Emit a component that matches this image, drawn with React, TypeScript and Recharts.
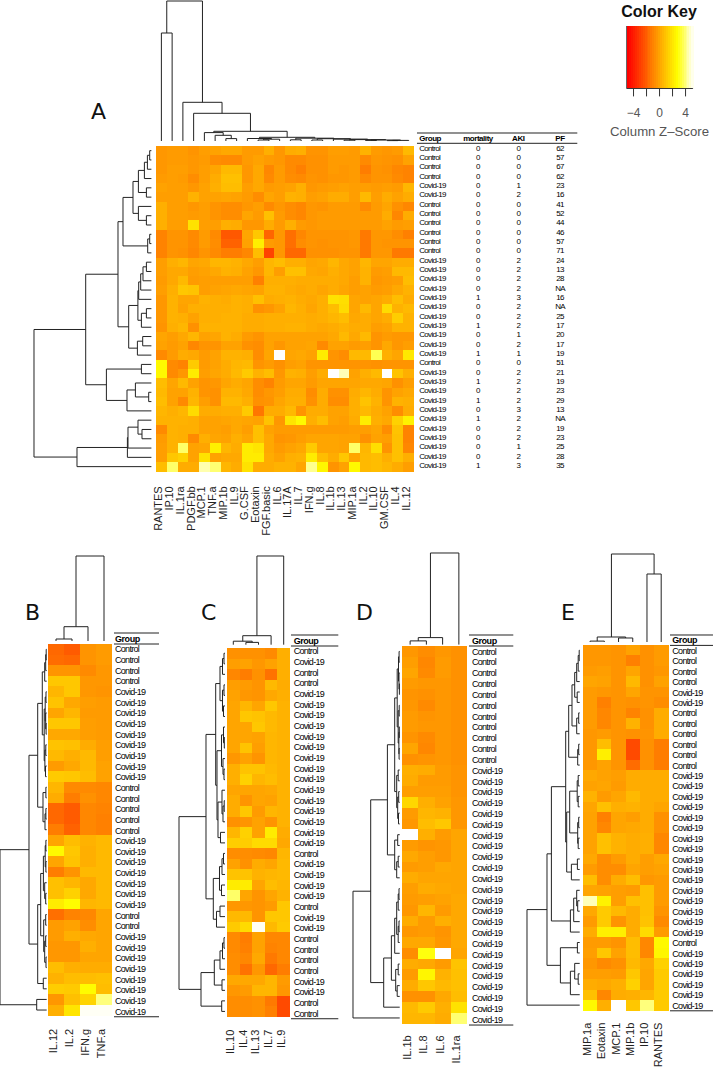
import React from "react";
import { ScatterChart, Scatter, XAxis, YAxis, ReferenceLine, ReferenceArea } from "recharts";

const C = "Control";
const V = "Covid-19";

// panel A
const colsA = ["RANTES", "IP.10", "IL.1ra", "PDGF.bb", "MCP.1", "TNF.a", "MIP.1b", "IL.9", "G.CSF", "Eotaxin", "FGF.basic", "IL.6", "IL.17A", "IL.7", "IFN.g", "IL.8", "IL.1b", "IL.13", "MIP.1a", "IL.2", "IL.10", "GM.CSF", "IL.4", "IL.12"];
const groupA = [C, C, C, C, V, V, C, C, C, C, C, C, V, V, V, V, V, V, V, V, V, V, V, C, V, V, V, V, V, V, V, V, V, V, V];
const mortalityA = [0, 0, 0, 0, 0, 0, 0, 0, 0, 0, 0, 0, 0, 0, 0, 0, 1, 0, 0, 1, 0, 0, 1, 0, 0, 1, 0, 1, 0, 1, 0, 0, 0, 0, 1];
const akiA = [0, 0, 0, 0, 1, 2, 0, 0, 0, 0, 0, 0, 2, 2, 2, 2, 3, 2, 2, 2, 1, 2, 1, 0, 2, 2, 2, 2, 3, 2, 2, 2, 1, 2, 3];
const pfA = [62, 57, 67, 62, 23, 16, 41, 52, 44, 46, 57, 71, 24, 13, 28, "NA", 16, "NA", 25, 17, 20, 17, 19, 51, 21, 19, 23, 29, 13, "NA", 19, 23, 25, 28, 35];
const heatA = [
  [-.5, -.4, -.4, -.6, -.3, -.2, 0, 0, -.4, -.4, .2, -.5, .1, .2, -.6, -.6, -.3, -.3, -.4, .3, -.4, -.5, -.4, .5],
  [-.5, -.4, -.4, -.5, -.4, -.8, -.9, -.9, -.4, -.2, -.4, -.5, -.9, -.9, -.7, -.7, -.4, -.4, -.4, -.9, -.5, -.6, -.7, -.2],
  [-.5, -.3, -.3, -.5, -.3, -.1, .5, .5, -.5, 0, -1, -.4, -.9, -1.2, -.7, -.7, -.4, -.5, -.4, -1.3, -.6, -.7, -1, -1.1],
  [-.4, -.3, -.4, -.8, -.3, .1, .7, .7, -.5, 0, -.9, -.4, -.8, -.9, -.6, -.7, -.5, -.5, -.4, -.9, -.6, -.6, -.9, -1.1],
  [-.2, -.3, -.3, -.5, -.2, .2, .6, .6, -.3, 0, -.4, -.3, -.2, .2, -.5, -.4, -.3, -.2, -.3, -.3, -.4, -.3, -.4, .4],
  [-.3, -.3, -.3, .3, -.2, -.2, -.1, -.2, -.4, -.8, -.1, -.3, .3, .2, -.3, -.2, .1, .1, -.3, .5, -.3, .1, -.2, .1],
  [.2, -.3, -.3, -.5, -.3, -.6, -.8, -.8, -.5, -.3, -.9, -.5, -.8, -1, -.5, -.6, -.4, -.4, -.4, -.9, -.4, -.1, -.7, -1],
  [.2, -.3, -.3, -.4, -.3, -.6, -.8, -.8, -.1, -.4, .7, -.4, -.8, -1, -.5, -.4, -.4, -.4, -.4, -.4, -.4, .1, -1, .1],
  [.2, -.3, -.3, 1.7, -.3, -.3, .2, .1, -.5, -.5, .1, -.4, .2, -.4, -.5, -.4, -.4, -.4, -.4, -.4, -.4, -.2, -.4, -.3],
  [-1.1, -.6, -.6, -.9, -.4, -.9, -2.4, -2.4, -.1, .9, -2, -.5, -1.7, -1, -.6, -.6, -.6, -.6, -.5, -1.4, -.5, -.5, -.8, -1.2],
  [-1.1, -.6, -.6, -.9, -.4, -.8, -2.1, -2.1, -.2, 2.1, -.4, -.5, -1.7, -.8, -.6, -.7, -.6, -.6, -.5, -1.4, -.5, -.6, -.6, -.6],
  [-1.1, -.6, -.7, -1, -.6, -.9, -1.3, -1.3, -1, .6, -3, -.5, -1.9, -1.9, -.7, -.7, -.7, -.6, -.6, -1.4, -.5, -.5, -1.4, -1.4],
  [-.3, .2, .4, -.1, 0, .4, .4, .3, 0, -.3, .4, .6, .2, .2, -.1, 0, .4, 0, -.2, .4, -.1, -.1, .1, .1],
  [-.3, 0, 0, -.3, -.2, 0, .3, .2, -.2, -.5, .4, -.3, .7, .7, 0, -.1, .2, 0, -.2, .3, -.4, -.3, .5, .5],
  [-.4, 0, .5, -.4, -.3, -.3, -.3, -.3, -.3, -1.2, .2, .2, .2, .1, .1, .1, .1, 0, -.3, .3, -.5, -.4, -.3, .6],
  [-.3, .2, .9, .8, -.3, -.2, -.1, 0, -.1, -.2, .3, .3, .1, 0, .1, -.1, .1, -.1, -.3, -.2, -.4, -.3, 0, .3],
  [-.5, .3, -.1, -.1, .3, .2, .1, .3, .2, .7, .1, .2, .3, .1, 0, .2, 1.7, 1.6, -.1, -.2, -.1, .1, .6, .1],
  [-.5, .3, -.2, .2, .2, .2, .2, .3, .2, -.7, -.5, -.2, .4, .2, -.1, .2, .6, 1.5, -.1, .5, -.1, 1.5, .3, .5],
  [-.5, .3, .2, -.2, .2, .2, .3, .3, .1, .1, .2, .2, .2, .2, .1, .2, .4, .6, 0, .1, -.1, .1, 1.1, .3],
  [-.6, .2, .4, -.7, .3, .3, .3, .3, .1, .1, .2, .2, .3, .3, .1, 0, .1, .3, .1, .1, -.3, -.2, .3, .3],
  [-.1, -.3, 0, .4, -.2, -.1, .3, .1, -.4, -.6, -.2, -.2, -.2, -.2, -.2, -.2, 0, .5, 0, .5, -.6, -.4, -.5, -.5],
  [-.2, -.4, -.2, -1, -.6, -.6, -.2, -.2, -.7, -.8, -.2, -.5, -.2, -.2, -.1, -.9, -.2, -.2, -.4, -.3, -.6, 0, -.5, -.3],
  [-.9, -.4, .1, 0, -.4, -.2, .3, .3, .2, -.8, -.1, 5.1, -.1, 0, -.2, 2, -.6, -.8, .5, .5, 3.4, .2, -.1, 1.9],
  [2.4, -.9, -1.1, 1, -.4, -.2, .1, .4, .5, -.6, -.4, -.7, -.3, -.2, -.6, -.6, -.6, -.6, -.6, -.6, -.7, -.6, -.6, -.6],
  [2.4, -.9, -.5, 2, -.3, -.1, .1, .5, 1, .3, .6, -.5, .3, .2, -.3, .1, 5.1, 4.4, -.2, .2, .5, 5.1, .8, .2],
  [.6, -.1, .5, -.2, -.6, -.5, -.1, .1, -.1, -.8, -1.1, -.4, -.1, -.1, -.4, -.1, -.1, -.1, -.1, 0, 0, -.1, -.7, -.3],
  [.5, -.2, -.2, .3, -.6, -.7, .3, .3, 0, -.8, -.5, -.3, .1, .1, -.8, .1, -.7, -.7, .1, .4, .1, -.6, -.2, 0],
  [.6, -.2, -.9, .4, -.3, -.7, .5, .5, .2, -.7, -.6, -.1, .2, .2, -.7, .1, -.8, -.8, .2, .8, .3, -.6, .3, .2],
  [.4, .2, .4, 1.5, .1, .1, .2, .2, 1, -1.5, .1, .1, .5, -.6, .1, .1, -.2, -.2, .2, .5, .1, -.2, -.8, .1],
  [.3, .3, .3, .2, -.2, -.2, -.1, 0, -.1, -.2, .8, -.5, 1.8, 2.4, .2, .6, -.2, -.3, .1, 2, .2, 0, 1.2, 2.2],
  [-.9, .3, .2, .2, -.2, -.2, -.3, 0, -.3, .7, -.2, -.4, -.4, -.4, -.4, -.4, -.4, -.4, -.3, -.3, -.1, -.8, .8, -1.1],
  [-.4, .3, .2, -.9, .2, -.1, -.2, .2, -.1, .7, 0, -.6, -.5, -.3, -.1, -.1, -.1, -.2, -.2, -.7, -.2, -.3, .7, -1.1],
  [-.3, .3, 3.6, -.2, -.1, 2.1, .4, .1, 2, 1.8, 0, -.4, -.2, 0, 1, -.1, -.1, -.2, 3.6, .4, 1.6, -.6, .7, -1],
  [-.3, .9, 1.2, -.2, 1.7, -.2, 0, 0, 2, 2, .1, -.2, .2, .3, 2, .6, .1, .9, -.1, .5, .6, .2, .7, .2],
  [.6, 3.6, .1, .1, 4.3, 3.7, .4, .1, 1.7, .1, .1, .3, .3, -.1, 4, 2.3, -.6, -.2, 2.4, .5, .6, .4, .1, -.3],
];
const rowTreeA = [117.4,
  [65.7,
    [33.4,
      [28.4,
        [18.4,
          [13, [7, [4, [1.7, 1, 2], 3], 4], [5, 5, 6]],
          [13, 7, [5, 8, 9]]],
        [3.7, [1.7, 10, 11], 12]],
      [22.7,
        [13.5, [12.7, [10.7, [8.4, [5, 13, 14], 15], 16], 17], [10, [5, 18, 19], 20]],
        [14, [8.7, 21, 22], 23]]],
    [45, [10, 24, 25], [24.4, [16, 26, [2.7, 27, 28]], 29]]],
  [74.4, [24, [23.4, [13.4, 30, [9.4, 31, 32]], 33], 34], 35]];
const colTreeA = [140,
  [108, 1, 2],
  [38.7, 3,
    [27.7, 4,
      [9.7,
        [8.4, 5, [5.7, 6, [2.4, 7, 8]]],
        [3.7,
          [2.5, 9, [1.8, [1, 10, 11], 12]],
          [2.8, [1.2, 13, 14], [2.3, [1, 15, 16], [1.9, 17, [1.4, [.8, 18, 19], [1, [.6, 20, 21], [.6, [.4, 22, 23], 24]]]]]]]]]]];

// panel B
const colsB = ["IL.12", "IL.2", "IFN.g", "TNF.a"];
const groupB = [C, C, C, C, V, V, V, V, V, V, V, V, V, C, C, C, C, C, V, V, V, V, V, V, V, C, C, V, V, V, V, V, V, V, V];
const heatB = [
  [-1.9, -2.3, -.6, -.4], [-1.8, -1.9, -.6, -.4], [-.6, -.6, -.9, -.5], [.9, .9, -.5, -.5], [.4, .9, -.5, -.6],
  [.8, 0, -.3, -.4], [-.1, .4, -.4, -.4], [.9, .9, -.3, -.4], [0, 0, -.3, -.4], [.8, .7, .1, -.3],
  [.5, .2, .5, -.3], [-.4, 0, .5, -.2], [1, .9, .6, -.2], [.4, -.9, -.9, -1], [.1, -1.3, -.7, -1],
  [-1.9, -2.3, -1, -1.1], [-1.9, -2.3, -1, -1.2], [-1.3, -2.1, -1, -1.2], [-.1, .6, .3, .5], [2.4, .9, .2, .5],
  [-.1, .8, .2, .5], [-1.3, -.6, .5, .5], [.7, .4, 0, .5], [.7, 1.2, 0, .5], [2, 2.5, .4, .5],
  [-1.7, -1.1, -1, -.1], [-.4, -.2, -.8, -.1], [-.4, .2, 0, -.1], [-.5, -.5, .2, -.1], [-.5, -.5, -.1, -.1],
  [.6, .2, .1, .1], [.3, .6, .6, .7], [1.1, 1, 2.5, .6], [-.5, .7, 1.3, 3.8], [.2, 1.8, 5, 5],
];
const rowTreeB = [46.7,
  [17.7,
    [9,
      [4.4,
        [2, [1, [.5, 1, 2], 3], 4],
        [2.5, [1.5, [.7, 5, 6], [1, 7, [.6, 8, 9]]], [1.8, [.9, 10, 11], [1.2, 12, 13]]]],
      [3.7, [.8, 14, 15], [1.7, [.8, 16, 17], 18]]],
    [9,
      [6,
        [3.3, [1.5, [.8, 19, 20], [.8, 21, 22]], [2, 23, [1, 24, 25]]],
        [3, [1, 26, 27], [2, [1, 28, 29], [.7, 30, 31]]]],
      [3.4, 32, 33]]],
  [10, 34, 35]];
const colTreeB = [85, [14.3, [2, 1, 2], 3], 4];

// panel C
const colsC = ["IL.10", "IL.4", "IL.13", "IL.7", "IL.9"];
const groupC = [C, V, C, C, V, V, V, V, V, V, V, V, V, V, V, V, V, V, V, C, V, V, V, V, C, V, V, C, C, C, C, V, V, C, C];
const heatC = [
  [-.7, -.7, -.7, -.9, .2], [-.3, -.2, -.5, -.2, .2], [-1, -1.3, -.7, -1.6, .2], [-.3, -.4, -.6, .5, .1], [-.2, -.5, -.6, 0, .2],
  [-.1, .4, -.1, .9, .3], [-.1, .9, .8, .5, .3], [-.1, -.1, .9, .5, .3], [-.1, -.1, -.2, .4, .3], [-.1, .8, -.3, .4, .3],
  [-.5, -.2, -.6, .4, .3], [.2, .8, .8, .5, .3], [.2, 1.2, .4, .6, .3], [-.1, -.1, -.1, 0, .3], [.1, -.6, -.1, -.2, .3],
  [.1, .9, -.4, .4, .3], [-.7, -.6, -.2, -.6, .3], [.4, 1.2, -.2, 2, .1], [1.1, 1.1, 1.5, 1.5, 0], [-.8, -.8, -.9, -1, .4],
  [-.2, -.7, .1, -.1, .5], [.8, .8, .3, .4, .5], [2, 2, -.1, .6, .4], [3.6, -.1, -.6, -.1, .3], [-.5, -.5, -.6, -.4, .9],
  [.5, .5, -.6, .9, .9], [1, 1.5, 5, .5, 1], [-.9, -1.3, -.2, -1, -1], [-.9, -1.2, -.2, -1.1, -1], [-.8, -1, 0, -1.4, -1],
  [-.8, -1.6, -.5, -1.9, -1.3], [0, 0, 0, .4, -.4], [-.5, -.4, .4, .4, -.5], [-.8, -.8, -.7, -1.4, -2.8], [-.8, -.8, -.7, -1.2, -2.8],
];
const rowTreeC = [46,
  [19,
    [9.3,
      [5, [2.5, [1, 1, 2], 3], [2.5, [1, 4, 5], [1.5, 6, 7]]],
      [8,
        [3.5, [1.5, 8, [.7, 9, 10]], [2, 11, [1, 12, 13]]],
        [7, [3, 14, [2, [.8, 15, 16], 17]], [4.5, 18, 19]]]],
    [11.7,
      [5.5, [3, [1.5, 20, 21], 22], [3.5, 23, 24]],
      [8.5, [5, 25, 26], 27]]],
  [24,
    [10.7, [5, [2.5, [1, 28, 29], 30], 31], [3, 32, 33]],
    [3.3, 34, 35]]];
const colTreeC = [88.7, [9, [3.5, 1, [2.3, 2, 3]], 4], 5];

// panel D
const colsD = ["IL.1b", "IL.8", "IL.6", "IL.1ra"];
const groupD = [C, C, C, C, C, C, C, C, C, C, C, V, V, V, V, V, V, V, V, V, V, V, V, V, V, V, V, V, V, V, V, V, V, V, V];
const heatD = [
  [-.5, -.8, -.5, -.7], [-.3, -1, -.4, -.7], [-.1, -.9, -.4, -.7], [-.4, -.5, -.5, -.7], [-.6, -.7, -.5, -.7],
  [-.5, -.9, -.5, -.7], [-.4, -.6, -.5, -.7], [-.4, -.5, -.5, -.7], [-.6, -.9, -.5, -.7], [-.1, -1, -.5, -.7],
  [-.7, -.6, -.5, -.7], [.2, .1, -.4, -.6], [.1, -.4, -.4, -.6], [-.3, -.3, -.3, -.6], [1.4, .2, -.2, -.5],
  [-.4, .4, .3, -.5], [-.5, .6, .9, -.5], [5.1, .2, -.4, -.1], [-.4, -.6, -.5, -.1], [0, -.3, -.5, -.1],
  [-.4, -.3, 0, -.1], [.1, -.1, -.1, -.1], [-.3, .1, 0, -.1], [-.4, -.3, -.2, 0], [-.5, .4, -.4, 0],
  [.1, -.4, .2, 0], [-.5, -.4, -.6, 0], [0, 0, -.5, 0], [-.8, 2.7, 5.1, -.1], [.1, 0, -.4, .8],
  [-.4, 2.3, .3, .7], [.1, .9, .5, .7], [-.7, -.7, 0, .6], [.5, 1, .2, 1.7], [.4, .4, .1, 3.7],
];
const rowTreeD = [46.7,
  [29,
    [12.3,
      [5,
        [2.5, [1.2, [.6, 1, 2], [.7, 3, [.3, 4, 5]]], [1.5, [.5, 6, 7], [.8, [.4, 8, 9], [.6, 10, 11]]]],
        [3, [1.5, 12, 13], [2, [1, 14, 15], [1.2, 16, 17]]]],
      [5, [2, 18, 19], [3, [1.5, 20, 21], 22]]],
    [16,
      [8.3,
        [5, [3, [1.5, [.7, 23, 24], 25], [1.5, [.7, 26, 27], 28]], 29],
        [4, [1.5, 30, 31], [2.5, 32, 33]]],
      34]],
  35];
const colTreeD = [91.6, [7, [3.7, 1, 2], 3], 4];

// panel E
const colsE = ["MIP.1a", "Eotaxin", "MCP.1", "MIP.1b", "IP.10", "RANTES"];
const groupE = [C, C, C, C, V, V, C, C, C, C, C, C, V, V, V, V, V, V, V, V, V, V, V, V, V, V, V, V, C, V, V, V, V, V, V];
const heatE = [
  [-.5, -.5, -.6, -.2, -.7, -.4], [-.5, -.5, -.6, -1.2, -.7, -.4], [-.4, -.3, -.6, -.1, -.7, -.5], [-.1, -.2, -.6, .5, -.7, -.2], [-.4, -.5, -.6, -.1, -.6, -.6],
  [-.4, -1.2, -.6, -.7, -.6, -.8], [-.4, -1, -.6, -1.1, -.7, .1], [-.4, -1, -.6, .3, -.7, .1], [-.5, -.4, -.6, -.7, -.6, .1], [-.5, .6, -.6, -2.8, -.7, -1.3],
  [-.5, 2.1, -.6, -2.8, -.7, -1.3], [-.5, -.2, -.6, -1.8, -.7, -1.3], [0, -.2, -.3, .1, .1, .1], [-.2, -.1, -.4, .1, .1, .1], [.3, -.4, -.1, .5, .1, .1],
  [-.1, .7, .2, .3, .1, -.1], [-.2, -1.2, -.1, -.3, .1, -.7], [-.2, -1, -.1, 0, .1, -.7], [-.2, .7, .3, .1, .2, -1], [-.2, .7, .3, .1, .2, -1],
  [0, -.8, -.4, .1, -.3, 0], [-.4, -.8, -.8, -.1, -.3, -.2], [.6, -.8, .1, .6, -.5, -.4], [-.1, -.2, -.3, -.4, .7, -.4], [4.4, 2.2, -.3, .7, .7, -.4],
  [0, 1, .5, .1, .7, -.6], [-.4, 1, -.6, .1, .8, -.9], [.1, 2.1, 2.1, .1, 1.5, -.4], [-.4, -.4, -.6, .6, -1, 2.4], [-.3, .9, -.2, .6, -1, 2.3],
  [-.5, -.9, -.7, .5, 0, 1.2], [-.3, -.3, -.4, .9, -.1, 1], [.1, 0, .2, 1.2, -.1, 1], [.7, -1, .1, .2, .4, 1], [2.4, .2, 5.1, .9, 3.8, 1],
];
const rowTreeE = [52.7,
  [32.7,
    [28.3,
      [14,
        [11, [7.7, [5, [3, [1.5, [.5, 1, 2], 3], 4], [2.5, 5, 6]], [3, [1, 7, 8], 9]], [2, [1, 10, 11], 12]],
        [13, [10, [2.5, [1.5, 13, 14], [1.5, 15, 16]], [2, [1, 17, 18], [1.5, 19, 20]]], [8.3, [2.3, 21, 22], 23]]],
      [9.3, [6, [3, 24, [2, 25, 26]], 27], 28]],
    [19.3, [2.3, 29, 30], [9.3, [5, 31, [1.5, 32, 33]], 34]]],
  35];
const colTreeE = [88, [5, [.9, 1, 2], [4, 3, 4]], [68, 5, 6]];

// color key
const keyLevels = [-5, -4.7, -4.4, -4.1, -3.8, -3.5, -3.2, -2.9, -2.6, -2.3, -2, -1.7, -1.4, -1.1, -.8, -.5, -.2, .1, .4, .7, 1, 1.3, 1.6, 1.9, 2.2, 2.5, 2.8, 3.1, 3.4, 3.7, 4, 4.3, 4.6, 4.9];
const keyTicks = [-4, -2, 0, 2, 4];

const LINE = "#222";
const SIDE = 8; // room either side of a heatmap for the rotated labels

const zColor = (z: number) => {
  const t = Math.min(1, Math.max(0, (z + 5) / 10.1));
  if (t < 0.75) return `rgb(255,${Math.round((255 * t) / 0.75)},0)`;
  return `rgb(255,255,${Math.round((255 * (t - 0.75)) / 0.25)})`;
};

const box = (left: number, top: number): React.CSSProperties => ({ position: "absolute", left, top });
const noPoint = () => null;

// walks a nested [height, left, right] tree and returns one elbow per node
const elbows = (tree: any, out: any[] = []) => {
  if (typeof tree === "number") return { pos: tree, h: 0, out };
  const a: any = elbows(tree[1], out);
  const b: any = elbows(tree[2], out);
  out.push([
    { pos: a.pos, h: a.h },
    { pos: a.pos, h: tree[0] },
    { pos: b.pos, h: tree[0] },
    { pos: b.pos, h: b.h },
  ]);
  return { pos: (a.pos + b.pos) / 2, h: tree[0], out };
};

const RowDendro = ({ tree, right, top, height, rows }: any) => {
  const { out } = elbows(tree);
  const w = tree[0];
  return (
    <div style={box(right - w - 1, top - 1)}>
      <ScatterChart width={w + 2} height={height + 2} margin={{ top: 1, right: 1, bottom: 1, left: 1 }}>
        <XAxis type="number" dataKey="h" domain={[0, w]} reversed hide />
        <YAxis type="number" dataKey="pos" domain={[0.5, rows + 0.5]} reversed hide />
        {out.map((pts: any, i: number) => (
          <Scatter key={i} data={pts} line={{ stroke: LINE, strokeWidth: 1 }} shape={noPoint} isAnimationActive={false} />
        ))}
      </ScatterChart>
    </div>
  );
};

const ColDendro = ({ tree, left, bottom, width, cols }: any) => {
  const { out } = elbows(tree);
  const h = tree[0];
  return (
    <div style={box(left - 1, bottom - h - 1)}>
      <ScatterChart width={width + 2} height={h + 2} margin={{ top: 1, right: 1, bottom: 1, left: 1 }}>
        <XAxis type="number" dataKey="pos" domain={[0.5, cols + 0.5]} hide />
        <YAxis type="number" dataKey="h" domain={[0, h]} hide />
        {out.map((pts: any, i: number) => (
          <Scatter key={i} data={pts} line={{ stroke: LINE, strokeWidth: 1 }} shape={noPoint} isAnimationActive={false} />
        ))}
      </ScatterChart>
    </div>
  );
};

const Heat = ({ left, top, width, height, matrix, labels, labelGap }: any) => {
  const nRows = matrix.length;
  const nCols = labels.length;
  const w = width / nCols;
  const h = height / nRows;
  const cells = matrix.flatMap((row: number[], r: number) =>
    row.map((z, c) => ({ x: c + 0.5, y: r + 0.5, z }))
  );
  const cell = (p: any) => (
    <rect x={p.cx - w / 2} y={p.cy - h / 2} width={w + 0.5} height={h + 0.5} fill={zColor(p.payload.z)} shapeRendering="crispEdges" />
  );
  const tick = ({ x, y, payload }: any) => {
    const tx = x + 1;
    const ty = y + labelGap;
    return (
      <text x={tx} y={ty} transform={`rotate(-90 ${tx} ${ty})`} textAnchor="end" fontSize={11} fill={LINE} fontFamily="Liberation Sans">
        {labels[payload.value - 0.5]}
      </text>
    );
  };
  return (
    <div style={box(left - SIDE, top)}>
      <ScatterChart width={width + 2 * SIDE} height={height + 74} margin={{ top: 0, right: SIDE, bottom: 0, left: SIDE }}>
        <XAxis
          type="number"
          dataKey="x"
          domain={[0, nCols]}
          ticks={labels.map((_: string, i: number) => i + 0.5)}
          interval={0}
          height={74}
          tickLine={false}
          axisLine={false}
          tickSize={0}
          tick={tick}
        />
        <YAxis type="number" dataKey="y" domain={[0, nRows]} reversed hide />
        <Scatter data={cells} shape={cell} isAnimationActive={false} />
      </ScatterChart>
    </div>
  );
};

const Table = ({ left, top, width, headH, rowH, nRows, columns, fontSize, bottomLine }: any) => {
  const headUnits = headH / rowH;
  const label = (p: any) => (
    <text
      x={p.cx}
      y={p.cy}
      dy="0.35em"
      textAnchor={p.payload.anchor}
      fontSize={fontSize}
      fontWeight={p.payload.bold ? 700 : 400}
      letterSpacing={p.payload.bold ? -0.45 : -0.7}
      fill="#000"
      fontFamily="Liberation Sans"
    >
      {p.payload.text}
    </text>
  );
  return (
    <div style={box(left - 1, top - 1)}>
      <ScatterChart width={width + 2} height={headH + rowH * nRows + 2} margin={{ top: 1, right: 1, bottom: 1, left: 1 }}>
        <XAxis type="number" dataKey="x" domain={[0, width]} hide />
        <YAxis type="number" dataKey="y" domain={[-headUnits, nRows]} reversed hide />
        {columns.map((col: any) => (
          <Scatter
            key={col.header}
            data={[
              { x: col.x, y: -headUnits / 2, text: col.header, anchor: col.anchor, bold: true },
              ...col.values.map((v: any, i: number) => ({ x: col.x, y: i + 0.5, text: String(v), anchor: col.anchor })),
            ]}
            shape={label}
            isAnimationActive={false}
          />
        ))}
        <ReferenceLine y={-headUnits} stroke={LINE} strokeWidth={1} />
        <ReferenceLine y={0} stroke={LINE} strokeWidth={1} />
        {bottomLine && <ReferenceLine y={nRows} stroke={LINE} strokeWidth={1} />}
      </ScatterChart>
    </div>
  );
};

const ColorKey = () => {
  const cell = (p: any) => (
    <rect x={p.cx - 1} y={p.cy - 31.2} width={2.4} height={62.4} fill={zColor(p.payload.z)} shapeRendering="crispEdges" />
  );
  return (
    <div style={box(610, 26)}>
      <ScatterChart width={99} height={104} margin={{ top: 0, right: 16.3, bottom: 0, left: 16.7 }}>
        <XAxis
          type="number"
          dataKey="x"
          domain={[-5.05, 5.1]}
          ticks={keyTicks}
          interval={0}
          height={41.6}
          tickSize={8}
          tickMargin={12}
          stroke="#333"
          tick={{ fontSize: 12, fill: "#555", fontFamily: "Liberation Sans" }}
          tickFormatter={(v: number) => (v === 0 ? "0" : Math.abs(v) === 4 ? String(v).replace("-", "\u2212") : "")}
        />
        <YAxis type="number" dataKey="y" domain={[0, 1]} hide />
        <Scatter data={keyLevels.map((z) => ({ x: z + 0.15, y: 0.5, z }))} shape={cell} isAnimationActive={false} />
        <ReferenceArea x1={-5.05} x2={5.1} y1={0} y2={1} fill="none" stroke="#444" strokeWidth={1} />
      </ScatterChart>
    </div>
  );
};

const Letter = ({ x, base, children }: any) => (
  <div style={{ ...box(x, base - 21), fontFamily: "DejaVu Sans", fontSize: 22, lineHeight: "26px", color: "#111" }}>{children}</div>
);

const panels = [
  { labels: colsB, matrix: heatB, group: groupB, rowTree: rowTreeB, colTree: colTreeB, left: 48.3, top: 644.3, width: 64, height: 371.4, rowRight: 46.7, colBottom: 641, labelGap: 11.5,
    tLeft: 114, tTop: 633.3, tWidth: 45, headH: 11, rowH: 10.65, textX: 1 },
  { labels: colsC, matrix: heatC, group: groupC, rowTree: rowTreeC, colTree: colTreeC, left: 227, top: 648, width: 63, height: 368.7, rowRight: 225, colBottom: 645, labelGap: 11,
    tLeft: 291, tTop: 635, tWidth: 47.3, headH: 11, rowH: 10.65, textX: 2.7 },
  { labels: colsD, matrix: heatD, group: groupD, rowTree: rowTreeD, colTree: colTreeD, left: 402, top: 646.3, width: 65, height: 377.4, rowRight: 400, colBottom: 644.3, labelGap: 10,
    tLeft: 469, tTop: 634.7, tWidth: 44.3, headH: 11, rowH: 10.83, textX: 3 },
  { labels: colsE, matrix: heatE, group: groupE, rowTree: rowTreeE, colTree: colTreeE, left: 583, top: 645.3, width: 85.3, height: 365.4, rowRight: 580, colBottom: 642.3, labelGap: 10.3,
    tLeft: 670, tTop: 635.3, tWidth: 43, headH: 10.4, rowH: 10.44, textX: 2.3 },
];

export default function App() {
  return (
    <div style={{ position: "absolute", left: 0, top: 0, width: 714, height: 1069, background: "#fff", overflow: "hidden" }}>
      <Letter x={91} base={120}>A</Letter>
      <Letter x={25} base={621}>B</Letter>
      <Letter x={201} base={621}>C</Letter>
      <Letter x={356} base={621}>D</Letter>
      <Letter x={561} base={621}>E</Letter>

      <div style={{ ...box(609, 2), width: 100, textAlign: "center", fontFamily: "Liberation Sans", fontWeight: 700, fontSize: 16, lineHeight: "20px", color: "#111" }}>Color Key</div>
      <ColorKey />
      <div style={{ ...box(600, 124), width: 119, textAlign: "center", fontFamily: "Liberation Sans", fontSize: 13.2, lineHeight: "16px", color: "#555" }}>Column Z{"\u2013"}Score</div>

      <Heat left={156} top={145.7} width={258} height={325.3} matrix={heatA} labels={colsA} labelGap={13} />
      <RowDendro tree={rowTreeA} right={151.7} top={145.7} height={325.3} rows={35} />
      <ColDendro tree={colTreeA} left={156} bottom={140.7} width={258} cols={24} />
      <Table
        left={416.7}
        top={133}
        width={160.3}
        headH={10.3}
        rowH={9.33}
        nRows={35}
        fontSize={8}
        bottomLine={false}
        columns={[
          { header: "Group", x: 2.3, anchor: "start", values: groupA },
          { header: "mortality", x: 61, anchor: "middle", values: mortalityA },
          { header: "AKI", x: 101.3, anchor: "middle", values: akiA },
          { header: "PF", x: 143, anchor: "middle", values: pfA },
        ]}
      />

      {panels.map((p) => (
        <React.Fragment key={p.labels[0]}>
          <Heat left={p.left} top={p.top} width={p.width} height={p.height} matrix={p.matrix} labels={p.labels} labelGap={p.labelGap} />
          <RowDendro tree={p.rowTree} right={p.rowRight} top={p.top} height={p.height} rows={35} />
          <ColDendro tree={p.colTree} left={p.left} bottom={p.colBottom} width={p.width} cols={p.labels.length} />
          <Table
            left={p.tLeft}
            top={p.tTop}
            width={p.tWidth}
            headH={p.headH}
            rowH={p.rowH}
            nRows={35}
            fontSize={9}
            bottomLine
            columns={[{ header: "Group", x: p.textX, anchor: "start", values: p.group }]}
          />
        </React.Fragment>
      ))}
    </div>
  );
}
